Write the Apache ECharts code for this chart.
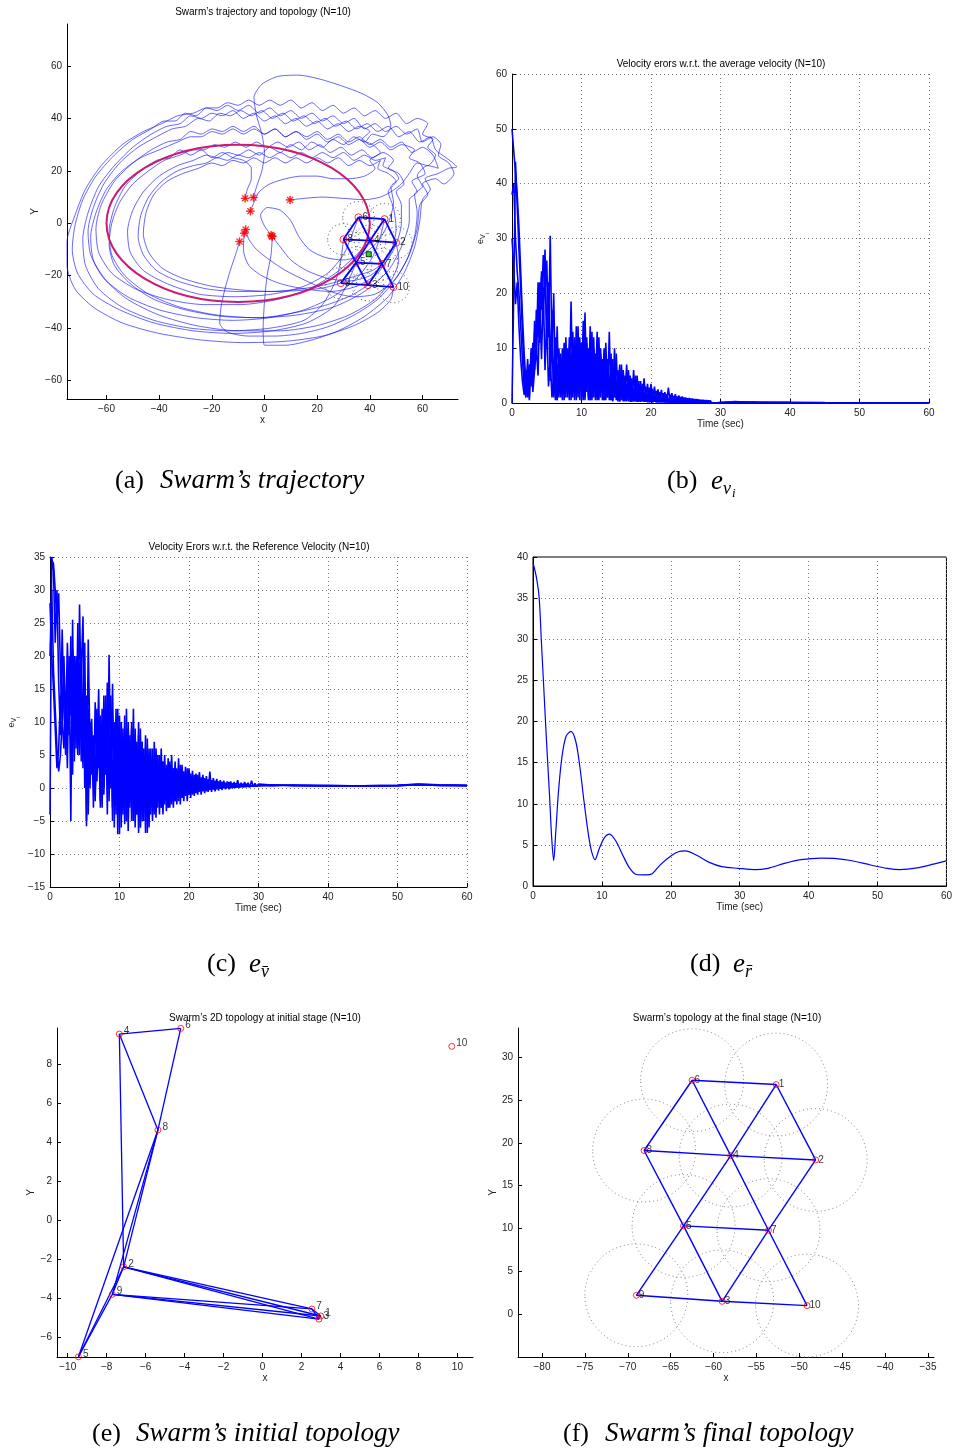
<!DOCTYPE html>
<html><head><meta charset="utf-8">
<script src="https://cdn.jsdelivr.net/npm/echarts@6/dist/echarts.min.js"></script>
<style>html,body{margin:0;padding:0;background:#fff}#c{width:955px;height:1451px}</style>
</head><body><div id="c"></div>
<script>
// ---------------- Panel (a): trajectories ----------------
const TRAJ_1 = [[2.99,-4.9],[2.5,-12],[1,-20],[0,-30],[-0.5,-40],[0,-46.5],[8,-46.5],[18,-44.5],[28,-41],[38,-35.5],[47,-28],[53,-19],[57,-9],[59,1],[60,9],[63,13],[61,17],[66,19],[70,21],[73,21.5],[69,25],[65,28],[63,33],[59,31],[55,35],[51,33],[47,37],[43,35],[39,38],[35,36],[31,39],[27,37],[23,40],[19,38],[15,41],[11,39],[7,42],[3,40],[-1,43],[-5,41],[-9,43],[-13,41],[-17,42],[-21,39],[-25,40],[-30,37],[-35,36],[-41,33],[-48,29],[-55,23],[-61,15],[-65,6],[-67,-3],[-66,-12],[-61,-21],[-52,-28],[-40,-33],[-26,-36],[-12,-37],[2,-36],[15,-33],[26,-28],[35,-21],[41,-13],[44,-5],[45.6,1.6]];
const TRAJ_2 = [[-7.13,-2.38],[-6,-6],[-3,-10],[2,-14],[8,-18],[16,-22],[25,-26],[34,-28],[42,-27],[49,-22],[54,-14],[57,-5],[58,4],[57,11],[60,14],[58,18],[62,22],[66,21],[64,26],[60,29],[56,27],[52,31],[48,29],[44,32],[40,30],[36,33],[32,31],[28,34],[24,32],[20,35],[16,33],[12,35],[8,33],[4,36],[0,34],[-4,36],[-8,34],[-12,36],[-16,34],[-20,35],[-24,33],[-28,33],[-33,31],[-40,28],[-47,25],[-54,20],[-60,13],[-64,4],[-66,-5],[-65,-14],[-60,-22],[-52,-29],[-40,-35],[-26,-39],[-10,-41],[6,-41],[20,-39],[32,-35],[42,-29],[48,-22],[51,-14],[50,-7.4]];
const TRAJ_3 = [[2.89,-5.06],[6,-9],[10,-14],[16,-18],[24,-21],[32,-22],[40,-20],[46,-15],[50,-8],[52,0],[52,7],[50,12],[53,15],[51,19],[47,21],[49,24],[45,27],[41,25],[37,28],[33,26],[29,29],[25,27],[21,30],[17,28],[13,31],[9,29],[5,31],[1,29],[-3,31],[-7,29],[-11,31],[-15,29],[-19,30],[-23,28],[-27,28],[-32,26],[-38,24],[-44,20],[-50,15],[-55,8],[-58,0],[-59,-8],[-57,-16],[-51,-23],[-42,-29],[-30,-33],[-16,-35.5],[-2,-36],[12,-34],[24,-31],[33,-27.5],[39.3,-23.6]];
const TRAJ_4 = [[-7.35,9.54],[-6.5,13],[-5,17],[-5,21],[-8,24],[-12,25],[-16,27],[-20,25],[-24,28],[-28,26],[-32,28],[-36,25],[-41,24],[-47,20],[-53,14],[-57,6],[-59,-3],[-58,-12],[-53,-20],[-44,-27],[-32,-32],[-18,-35],[-3,-36],[12,-35],[26,-32],[38,-26],[47,-18],[52,-9],[55,1],[55,9],[58,12],[56,16],[61,19],[59,23],[55,25],[57,28],[52,30],[48,28],[44,31],[40,29],[36,32],[32,30],[28,33],[24,31],[20,34],[16,32],[12,35],[8,33],[4,36],[0,34],[-4,37],[-8,35],[-12,37],[-16,35],[-20,36],[-24,34],[-28,35],[-32,32],[-37,31],[-43,28],[-50,23],[-57,16],[-62,7],[-64,-2],[-63,-11],[-58,-19],[-49,-25],[-37,-29],[-23,-31],[-9,-31],[5,-29],[17,-25],[27,-19],[34,-13],[40.1,-6.6]];
const TRAJ_5 = [[-9.45,-6.99],[-11,-12],[-13,-18],[-15,-25],[-16.5,-32],[-17,-38],[-14,-41.5],[-6,-43],[4,-43],[14,-42],[24,-39.5],[34,-35],[43,-29],[50,-21],[55,-12],[58,-2],[59,7],[62,11],[60,15],[65,17],[68,15],[72,19],[70,23],[66,26],[67,30],[64,33],[60,31],[58,36],[54,34],[50,37],[46,35],[42,38],[38,36],[34,40],[30,38],[26,41],[22,39],[18,42],[14,40],[10,43],[6,41],[2,44],[-2,42],[-6,45],[-10,43],[-14,45],[-18,43],[-22,44],[-26,41],[-30,42],[-34,39],[-38,39],[-43,36],[-50,32],[-57,26],[-64,18],[-69,9],[-72,-1],[-73,-10],[-71,-19],[-65,-27],[-55,-33],[-42,-38],[-27,-41],[-12,-42],[3,-41],[16,-38],[26,-32],[31,-24],[34.8,-15.0]];
const TRAJ_6 = [[-4.2,9.83],[-3,14],[-1,20],[0,27],[-1,34],[-3,41],[-4,48],[-1,53],[5,56],[13,56.5],[21,55],[29,52.5],[37,49.5],[43,46],[47,41],[48,37],[45,33],[41,34],[38,31],[34,33],[30,30],[26,32],[22,29],[18,31],[14,28],[10,30],[6,27],[2,29],[-2,26],[-6,28],[-10,26],[-14,27],[-18,25],[-22,26],[-27,24],[-33,22],[-40,18],[-46,12],[-50,5],[-52,-3],[-51,-11],[-46,-18],[-37,-23],[-25,-27],[-11,-28],[3,-27],[15,-24],[24,-19],[30,-12],[33,-5],[35.7,2.3]];
const TRAJ_7 = [[2.53,-4.54],[0,-1],[-1.5,3],[1,6],[6,5],[10,1],[13,-5],[17,-10],[23,-13],[30,-14],[37,-12],[43,-7],[47,0],[49,8],[48,14],[51,17],[49,20],[45,22],[46,25],[42,24],[38,26],[34,24],[30,27],[26,25],[22,27],[18,25],[14,27],[10,25],[6,27],[2,25],[-2,27],[-6,25],[-10,26],[-14,24],[-18,25],[-22,23],[-27,22],[-33,20],[-39,16],[-44,10],[-47,3],[-48,-5],[-46,-12],[-41,-18],[-33,-22],[-22,-25],[-10,-26],[2,-26],[14,-25],[25,-23],[35,-20],[41,-18],[44.6,-15.5]];
const TRAJ_8 = [[-5.37,4.63],[-4,8],[-2,12],[2,15],[8,17],[14,18],[20,18],[26,17],[32,17],[38,18],[42,21],[40,24],[44,27],[41,30],[37,32],[40,35],[36,37],[32,35],[28,38],[24,36],[20,39],[16,37],[12,40],[8,38],[4,41],[0,39],[-4,42],[-8,40],[-12,43],[-16,41],[-20,42],[-24,40],[-28,41],[-32,38],[-37,37],[-43,34],[-50,29],[-57,22],[-63,14],[-67,4],[-69,-6],[-68,-16],[-63,-25],[-54,-32],[-42,-37],[-28,-40],[-13,-41],[2,-40],[15,-37],[22,-31],[27,-22],[29,-14],[30,-6.1]];
const TRAJ_9 = [[-7.71,-3.79],[-8,-10],[-6,-16],[-1,-20],[6,-23],[15,-25],[25,-26],[35,-24],[43,-19],[48,-11],[50,-2],[49,6],[47,12],[50,16],[47,19],[43,21],[44,24],[40,22],[36,24],[32,22],[28,25],[24,23],[20,25],[16,23],[12,25],[8,23],[4,25],[0,23],[-4,25],[-8,23],[-12,24],[-16,22],[-20,23],[-25,21],[-31,19],[-37,16],[-42,11],[-45,4],[-46,-4],[-44,-11],[-39,-17],[-31,-21],[-20,-24],[-8,-25.5],[4,-26],[15,-25.5],[23,-24.5],[29.0,-22.8]];
const TRAJ_10 = [[9.71,8.91],[15,9.5],[22,10],[30,9.5],[38,9],[44,10],[48,12],[52,15],[55,19],[58,23],[62,22],[65,26],[62,29],[64,32],[60,34],[62,38],[58,40],[54,38],[50,42],[46,40],[42,43],[38,41],[34,44],[30,42],[26,45],[22,43],[18,46],[14,44],[10,47],[6,45],[2,47],[-2,45],[-6,47],[-10,45],[-14,46],[-18,44],[-22,44],[-27,42],[-33,41],[-39,38],[-46,35],[-54,30],[-62,22],[-68,13],[-72,3],[-75,-7],[-75,-16],[-72,-25],[-65,-32],[-54,-38],[-40,-42],[-24,-44.5],[-8,-45.5],[8,-45],[22,-43],[34,-39],[43,-34],[48,-29],[49.0,-24.3]];
const TRAJS = [TRAJ_1,TRAJ_2,TRAJ_3,TRAJ_4,TRAJ_5,TRAJ_6,TRAJ_7,TRAJ_8,TRAJ_9,TRAJ_10];
const REF_ELLIPSE = [-10, 0, 50, 30];          // centre x, centre y, semi-axis x, semi-axis y
const FINAL_A_X = [45.6, 50.0, 39.3, 40.1, 34.8, 35.7, 44.6, 30.0, 29.0, 49.0];
const FINAL_A_Y = [1.6, -7.4, -23.6, -6.6, -15.0, 2.3, -15.5, -6.1, -22.8, -24.3];
const CENTROID_A = [39.6, -11.8];
const SENSE_R = 6;
const EDGES_FINAL = [[6,1],[6,8],[6,4],[1,4],[1,2],[8,4],[4,2],[8,5],[4,5],[4,7],[2,7],[5,7],[5,9],[5,3],[7,3],[7,10],[9,3],[3,10]];
const A_XT = [-60,-40,-20,0,20,40,60];
const A_YT = [-60,-40,-20,0,20,40,60];

// ---------------- Panel (e): initial topology ----------------
const INIT_X = [2.99,-7.13,2.89,-7.35,-9.45,-4.2,2.53,-5.37,-7.71,9.71];
const INIT_Y = [-4.9,-2.38,-5.06,9.54,-6.99,9.83,-4.54,4.63,-3.79,8.91];
const EDGES_INIT = [[4,6],[4,8],[6,8],[4,2],[8,2],[8,9],[8,5],[2,9],[9,5],[2,5],[2,7],[2,1],[2,3],[9,7],[9,1],[9,3],[7,1],[7,3],[1,3]];
const E_XT = [-10,-8,-6,-4,-2,0,2,4,6,8,10];
const E_YT = [-6,-4,-2,0,2,4,6,8];

// ---------------- Panel (f): final topology ----------------
const FINAL_X = [-52.7,-48.1,-59.0,-58.0,-63.5,-62.5,-53.6,-68.1,-69.0,-49.1];
const FINAL_Y = [26.8,18.0,1.5,18.5,10.3,27.3,9.8,19.1,2.2,1.0];
const F_XT = [-80,-75,-70,-65,-60,-55,-50,-45,-40,-35];
const F_YT = [0,5,10,15,20,25,30];

// ---------------- Panels (b),(c): time samples ----------------
const T = [
0,0.25,0.5,0.75,1,1.25,1.5,1.75,
2,2.25,2.5,2.75,3,3.25,3.5,3.75,
4,4.25,4.5,4.75,5,5.25,5.5,5.75,
6,6.25,6.5,6.75,7,7.25,7.5,7.75,
8,8.25,8.5,8.75,9,9.25,9.5,9.75,
10,10.25,10.5,10.75,11,11.25,11.5,11.75,
12,12.25,12.5,12.75,13,13.25,13.5,13.75,
14,14.25,14.5,14.75,15,15.25,15.5,15.75,
16,16.25,16.5,16.75,17,17.25,17.5,17.75,
18,18.25,18.5,18.75,19,19.25,19.5,19.75,
20,20.25,20.5,20.75,21,21.25,21.5,21.75,
22,22.25,22.5,22.75,23,23.25,23.5,23.75,
24,24.25,24.5,24.75,25,25.25,25.5,25.75,
26,26.25,26.5,26.75,27,27.25,27.5,27.75,
28,28.25,28.5,28.75,29,29.25,29.5,29.75,
30,32,35,40,45,50,53,56,60];

// (b) velocity errors w.r.t. average velocity
const B1 = [50,46,42,38,32,24,16,9, 4,2,7,3,11,6,17,12, 22,17,27,20,26,12,30.5,9, 20,3,14,1,9,2,11,1,
10,2,18.5,1,12,3,14,0.5, 11,1,16.5,2,10,0.5,13,1, 9,2,12,1,8,0.5,11,1, 13,0.5,8,1,9,0.5,7,0.5,
6,1,7,0.3,5,0.5,6,0.3, 5,0.5,4,0.3,4.5,0.3,3.5,0.2, 3.5,0.3,3,0.2,2.5,0.2,2.4,0.2, 2,0.1,2.8,0.2,1.8,0.1,1.6,0.1,
1.4,0.1,1.2,0.1,1,0.1,0.9,0.05, 0.8,0.05,0.7,0.05,0.6,0.05,0.55,0.05, 0.5,0.05,0.45,0.05,0.4,0.05,0.35,0.05,
0.3,0.2,0.12,0.08,0.05,0.04,0.03,0.03,0.02];
const B2 = [0,20,44,36,28,21,13,6, 2,8,1,10,4,15,9,22, 14,24,16,28,10,22,6,17, 2,12,0.5,10,1,8,2,12,
1,9,3,13,0.5,14,1,11, 2,15,0.5,12,1,14,0.5,10, 1,13,0.5,9,2,10,0.5,8, 1,9,0.5,10,1,6,0.3,7,
0.5,5,0.3,6,0.5,4.5,0.3,5, 0.3,4,0.2,3.5,0.3,3,0.2,2.8, 0.2,2.6,0.2,2.2,0.1,2,0.1,1.8, 0.1,1.6,0.1,1.5,0.1,1.3,0.1,1.2,
0.05,1.1,0.05,1,0.05,0.85,0.05,0.8, 0.05,0.7,0.05,0.65,0.05,0.55,0.05,0.5, 0.05,0.45,0.05,0.4,0.04,0.35,0.04,0.3,
0.05,0.25,0.1,0.15,0.06,0.04,0.03,0.02,0.02];
const B3 = [38,40,30,24,20,14,8,3, 1,5,0.5,9,3,13,8,19, 11,23,18,22,14,19,4,12, 1,8,0.5,6,1.5,10,0.5,7,
2,12,0.5,10,1,8,2,12, 0.5,10,1,11,0.5,9,1,12, 0.5,7,1,10,0.5,9,1,6, 0.5,7,0.3,6,0.5,5,0.3,6,
0.3,4,0.5,5,0.2,3.5,0.3,4, 0.2,3,0.3,2.5,0.2,2.6,0.1,2, 0.1,1.8,0.2,1.6,0.1,1.5,0.1,1.3, 0.1,1.2,0.05,1.1,0.05,1,0.05,0.9,
0.05,0.8,0.05,0.7,0.05,0.65,0.05,0.6, 0.05,0.5,0.05,0.45,0.04,0.4,0.04,0.35, 0.04,0.3,0.03,0.28,0.03,0.25,0.03,0.2,
0.15,0.05,0.18,0.06,0.05,0.03,0.03,0.02,0.02];
const B4 = [30,25,18,22,14,8,4,1.5, 6,1,4,8,2,6,10,5, 18,8,21,6,15,3,8,1, 5,0.5,7,3,5,0.5,8,3,
6,0.5,9,2,7,0.5,8,3, 7,0.5,9,3,6,0.5,8,2, 5,0.5,7,2,6,0.5,5,1, 4,0.5,5,1,4,0.3,4,1,
3,0.3,3.5,0.5,3,0.2,2.5,0.3, 2.5,0.2,2,0.3,1.8,0.2,1.6,0.1, 1.5,0.1,1.3,0.1,1.2,0.1,1,0.1, 0.9,0.05,0.8,0.05,0.7,0.05,0.65,0.05,
0.6,0.05,0.5,0.05,0.45,0.04,0.4,0.04, 0.35,0.03,0.3,0.03,0.28,0.03,0.25,0.03, 0.2,0.02,0.18,0.02,0.15,0.02,0.12,0.02,
0.1,0.12,0.06,0.05,0.04,0.03,0.02,0.02,0.02];

// (c) velocity errors w.r.t. reference velocity
const C1 = [35,35,34,30,25,29.5,18,10, 6,14,3,20,-5,25.5,4,18, 8,27.8,12,3,22,-5.8,22.5,6, 10.5,-3,13,2,15,-2,12,0,
14,-4,20.2,0,15.8,-6,12,-7, 11,-6,9,-5.5,12,-6.5,8,-5, 12,-6,7,-6.8,9,-5,6,-6.8, 7.5,-6,6,-5,7,-4.5,5,-4,
6,-4,5,-3.5,4.5,-3,5,-3, 4,-2.5,4.5,-2.5,3.5,-2,3.2,-2, 3,-1.5,2.6,-1.2,2.2,-1,2.4,-1, 2,-0.8,1.8,-0.6,2.5,-0.6,1.5,-0.5,
1.4,-0.4,1.2,-0.3,1.1,-0.2,1,-0.2, 1,-0.1,0.9,0,1.2,0,0.8,0.1, 0.9,0.1,0.8,0.1,1.1,0.2,0.7,0.2,
0.6,0.45,0.4,0.35,0.35,0.4,0.55,0.45,0.4];
const C2 = [-4,35,33,22,30,16,8,24, 12,5,18,8,23,2,20,6, 25,5,18,26,0,14,-4,10, 2,8,-1,12,3,9,-3,14,
2,16,-2,12,-5,10,2,11, -4,10,-3,11,-5,9,-2,10, -5,9,-4,8,-6,7,-3,8, -5,6,-3,5,-4,6,-2,5,
-3,4,-2,3.5,-3,4,-2,3, -2,3,-1.5,3.5,-1.5,2.5,-1.2,3, -1,2.2,-0.8,2,-0.7,2,-0.5,1.6, -0.5,1.5,-0.4,1.3,-0.3,1.2,-0.2,1.1,
-0.2,1,-0.1,0.9,0,0.8,0,0.9, 0,0.7,0.1,0.7,0.1,0.6,0.2,0.6, 0.2,0.6,0.2,0.5,0.3,0.5,0.3,0.5,
0.4,0.5,0.35,0.4,0.3,0.35,0.5,0.4,0.35];
const C3 = [28,20,15,9,3,6,14,12, 20,9,22,13,17,21,12,20, 14,19,4,13,16,-5,10,0, 8,4,-2,9,4,11,1,7,
4,11,1,14,-3,9,-4,12, -7,10,-4,8,-5,10,-3,9, -5,8,-4,10,-6,7,-5,6, -6.8,5,-4,6,-3.5,4,-3,5,
-3,4,-2.5,3,-3,3.5,-2.5,3, -2,2.5,-2,2.8,-1.5,2.5,-1,2, -1,1.8,-1,1.6,-0.8,1.5,-0.6,1.4, -0.4,1.3,-0.5,1.1,-0.3,1,-0.2,1,
-0.1,0.9,-0.1,0.8,0,0.7,0.1,0.7, 0.1,0.6,0.1,0.6,0.2,0.5,0.2,0.5, 0.2,0.5,0.3,0.45,0.3,0.45,0.3,0.4,
0.4,0.3,0.45,0.35,0.35,0.4,0.6,0.5,0.4];
const C4 = [20,30,18,12,6,2.5,5,10, 15,11,8,17,11,14,7,12, 5,13,21,8,11,1,12,2, 6,0,5,1,8,-3,6,-1,
9,1,7,3,11,-2,7,0, 6,-3,7,-1,5,-3,6,0, 4,-2,5,-1,3,-3,5,0, 3,-2,4,-1,3,-2,3,-1,
2.5,-1,2,-1.5,2.5,-1,2,-0.5, 2,-1,1.5,-0.8,1.5,-0.5,1.2,-0.5, 1,-0.3,1,-0.3,0.8,-0.2,0.8,0, 0.7,0,0.7,0.1,0.6,0.1,0.6,0.1,
0.6,0.2,0.55,0.2,0.5,0.2,0.5,0.25, 0.5,0.25,0.5,0.3,0.45,0.3,0.45,0.3, 0.45,0.3,0.45,0.35,0.4,0.35,0.4,0.35,
0.4,0.45,0.4,0.3,0.3,0.35,0.5,0.4,0.35];

// (d) reference position error
const D_T = [0,0.5,0.9,1.2,1.6,2.0,2.4,2.7,3.0,3.3,3.7,4.2,4.8,5.5,6.2,6.8,7.4,8.0,8.5,9.0,9.6,10.3,11.1,12.0,13.0,14.0,15.0,16.4,17.3,18.5,20.0,21.2,22.1,23.6,25.5,27.4,29.8,32.2,34.1,36.5,38.9,41.8,43.7,46.1,49.0,51.4,53.3,55.7,58.1,60];
const D_V = [39.3,37.5,35,30,23.5,17,11,6,3.1,6.5,11.5,15.7,18.2,18.8,17.6,14.5,10.3,6.5,4.2,3.2,4.5,5.8,6.3,5.5,3.8,2.2,1.4,1.35,1.5,2.6,3.65,4.2,4.26,3.8,2.9,2.35,2.15,2.0,2.15,2.75,3.2,3.4,3.35,3.1,2.55,2.15,2.0,2.2,2.65,3.05];

// ---------------- build ----------------
const FONT = '"Liberation Sans", Arial, sans-serif';
const fmt = v => (v < 0 ? '\u2212' + (-v) : String(v));
const G = [
  {left:67, top:24, width:391, height:375},
  {left:512, top:74, width:417, height:329},
  {left:50, top:557, width:417, height:330},
  {left:533, top:557, width:417, height:329},
  {left:57, top:1028, width:416, height:329},
  {left:518, top:1028, width:416, height:329}
];
const RICH = {
  e:{fontSize:9, fontFamily:FONT, color:'#222', lineHeight:14, verticalAlign:'top'},
  s:{fontSize:7, fontFamily:FONT, color:'#222', lineHeight:14, verticalAlign:'middle'},
  ss:{fontSize:5, fontFamily:FONT, color:'#222', lineHeight:14, verticalAlign:'bottom'}
};
function mkAxis(gi, o) {
  const a = {
    type:'value', gridIndex:gi, min:o.min, max:o.max,
    axisLine:{show:true, onZero:false, lineStyle:{color:'#000', width:1}},
    axisTick:{show:true, inside:true, length:4, lineStyle:{color:'#000', width:1}},
    axisLabel:{show:true, color:'#222', fontSize:10, fontFamily:FONT, margin:o.margin || 5, formatter:fmt},
    splitLine:{show:!!o.grid, lineStyle:{color:'#777', width:1, type:[1,3]}},
    name:o.name || '', nameLocation:'middle', nameGap:o.nameGap || 15,
    nameTextStyle:{color:'#222', fontSize:10, fontFamily:FONT, rich:o.rich}
  };
  if (o.interval != null) a.interval = o.interval;
  if (o.custom) { a.axisTick.customValues = o.custom; a.axisLabel.customValues = o.custom; }
  return a;
}
const xAxis = [
  mkAxis(0,{min:-75,max:73.5,custom:A_XT,name:'x',nameGap:16}),
  mkAxis(1,{min:0,max:60,interval:10,grid:true,name:'Time (sec)',nameGap:14}),
  mkAxis(2,{min:0,max:60,interval:10,grid:true,name:'Time (sec)',nameGap:14}),
  mkAxis(3,{min:0,max:60,interval:10,grid:true,name:'Time (sec)',nameGap:14}),
  mkAxis(4,{min:-10.55,max:10.8,custom:E_XT,name:'x',nameGap:14}),
  mkAxis(5,{min:-82.8,max:-34.3,custom:F_XT,name:'x',nameGap:14})
];
const yAxis = [
  mkAxis(0,{min:-67,max:76,custom:A_YT,name:'Y',nameGap:27}),
  mkAxis(1,{min:0,max:60,interval:10,grid:true,name:'{e|e}{s|V}{ss|i}',nameGap:22,rich:RICH}),
  mkAxis(2,{min:-15,max:35,interval:5,grid:true,name:'{e|e}{s|V}{ss|i}',nameGap:29,rich:RICH}),
  mkAxis(3,{min:0,max:40,interval:5,grid:true}),
  mkAxis(4,{min:-7,max:9.85,custom:E_YT,name:'Y',nameGap:19}),
  mkAxis(5,{min:-5,max:33.4,custom:F_YT,name:'Y',nameGap:18})
];

const series = [];
const ax = gi => ({xAxisIndex:gi, yAxisIndex:gi});
// (a)
TRAJS.forEach(tr => series.push(Object.assign({type:'line', data:tr, showSymbol:false, symbol:'none', smooth:0.25,
  lineStyle:{color:'#1010ff', width:0.8, opacity:0.8}, silent:true, z:1}, ax(0))));
series.push(Object.assign({type:'custom', data:[REF_ELLIPSE], silent:true, z:2,
  renderItem:(p, api) => {
    const c = api.coord([api.value(0), api.value(1)]);
    const s = api.size([api.value(2), api.value(3)]);
    return {type:'ellipse', shape:{cx:c[0], cy:c[1], rx:s[0], ry:s[1]}, style:{fill:'none', stroke:'#cc1a70', lineWidth:2}};
  }}, ax(0)));
function circles(X, Y, gi, color) {
  return Object.assign({type:'custom', data:X.map((x,i)=>[x, Y[i], SENSE_R]), silent:true, z:3,
    renderItem:(p, api) => {
      const c = api.coord([api.value(0), api.value(1)]);
      const s = api.size([api.value(2), api.value(2)]);
      return {type:'ellipse', shape:{cx:c[0], cy:c[1], rx:s[0], ry:s[1]}, style:{fill:'none', stroke:color, lineWidth:1, lineDash:[1,3]}};
    }}, ax(gi));
}
function edges(X, Y, E, gi, w) {
  return Object.assign({type:'lines', coordinateSystem:'cartesian2d', silent:true, z:4,
    data:E.map(([i,j]) => ({coords:[[X[i-1],Y[i-1]],[X[j-1],Y[j-1]]]})),
    lineStyle:{color:'#0000ff', width:w, opacity:1, curveness:0}}, ax(gi));
}
function nodes(X, Y, gi, size, off) {
  return Object.assign({type:'scatter', silent:true, z:6,
    data:X.map((x,i)=>({value:[x, Y[i]], name:String(i+1)})),
    symbol:'circle', symbolSize:size,
    itemStyle:{color:'rgba(0,0,0,0)', borderColor:'#ff0000', borderWidth:1},
    label:{show:true, position:'right', distance:0, offset:off, formatter:'{b}', color:'#000', fontSize:10, fontFamily:FONT}}, ax(gi));
}
series.push(circles(FINAL_A_X, FINAL_A_Y, 0, '#555'));
series.push(edges(FINAL_A_X, FINAL_A_Y, EDGES_FINAL, 0, 1.8));
series.push(Object.assign({type:'scatter', silent:true, z:5, data:INIT_X.map((x,i)=>[x, INIT_Y[i]]),
  symbol:'path://M4.5,0H5.5V10H4.5Z M0,4.5H10V5.5H0Z M1.1,1.8L1.8,1.1L8.9,8.2L8.2,8.9Z M8.2,1.1L8.9,1.8L1.8,8.9L1.1,8.2Z',
  symbolSize:8, itemStyle:{color:'#ff0000', borderColor:'#ff0000', borderWidth:0.6}}, ax(0)));
series.push(nodes(FINAL_A_X, FINAL_A_Y, 0, 7, [0,0]));
series.push(Object.assign({type:'scatter', silent:true, z:7, data:[CENTROID_A], symbol:'rect', symbolSize:5,
  itemStyle:{color:'#00cc00', borderColor:'#000', borderWidth:1}}, ax(0)));
// (b)
[B1,B2,B3,B4].forEach(V => series.push(Object.assign({type:'line', data:T.map((t,i)=>[t, V[i]]), showSymbol:false, symbol:'none',
  lineStyle:{color:'#0000ff', width:1.6}, silent:true}, ax(1))));
// (c)
[C1,C2,C3,C4].forEach(V => series.push(Object.assign({type:'line', data:T.map((t,i)=>[t, V[i]]), showSymbol:false, symbol:'none',
  lineStyle:{color:'#0000ff', width:1.6}, silent:true}, ax(2))));
// (d)
series.push(Object.assign({type:'line', data:D_T.map((t,i)=>[t, D_V[i]]), showSymbol:false, symbol:'none', smooth:0.3,
  lineStyle:{color:'#0000ff', width:1.2}, silent:true}, ax(3)));
// (e)
series.push(edges(INIT_X, INIT_Y, EDGES_INIT, 4, 1.3));
series.push(nodes(INIT_X, INIT_Y, 4, 6, [1,-3]));
// (f)
series.push(circles(FINAL_X, FINAL_Y, 5, '#888'));
series.push(edges(FINAL_X, FINAL_Y, EDGES_FINAL, 5, 1.4));
series.push(nodes(FINAL_X, FINAL_Y, 5, 6, [-1,0]));

// text
const SANS = '10px "Liberation Sans", Arial, sans-serif';
const SERIF = '26px "Liberation Serif", "DejaVu Serif", serif';
const SERIF_I = 'italic 27px "Liberation Serif", "DejaVu Serif", serif';
const SUB_I = 'italic 18px "Liberation Serif", "DejaVu Serif", serif';
const SUB2_I = 'italic 13px "Liberation Serif", "DejaVu Serif", serif';
const txt = (x, y, text, font, align) => ({type:'text', x:x, y:y, silent:true,
  style:{text:text, font:font, fill:'#000', align:align || 'left', verticalAlign:'middle'}});
const graphic = [
  txt(263, 12, 'Swarm\u2019s trajectory and topology (N=10)', SANS, 'center'),
  txt(721, 64, 'Velocity erors w.r.t. the average velocity (N=10)', SANS, 'center'),
  txt(259, 547, 'Velocity Erors w.r.t. the Reference Velocity (N=10)', SANS, 'center'),
  txt(265, 1018, 'Swarm\u2019s 2D topology at initial stage (N=10)', SANS, 'center'),
  txt(727, 1018, 'Swarm\u2019s topology at the final stage (N=10)', SANS, 'center'),
  // captions
  txt(115, 481, '(a)', SERIF), txt(160, 481, 'Swarm\u2019s trajectory', SERIF_I),
  txt(667, 481, '(b)', SERIF), txt(711, 482, 'e', SERIF_I), txt(723, 489, 'v', SUB_I), txt(732, 494, 'i', SUB2_I),
  txt(207, 964, '(c)', SERIF), txt(249, 965, 'e', SERIF_I), txt(261, 972, 'v\u0304', SUB_I),
  txt(690, 964, '(d)', SERIF), txt(733, 965, 'e', SERIF_I), txt(745, 972, 'r\u0304', SUB_I),
  txt(92, 1434, '(e)', SERIF), txt(136, 1434, 'Swarm\u2019s initial topology', SERIF_I),
  txt(563, 1434, '(f)', SERIF), txt(605, 1434, 'Swarm\u2019s final topology', SERIF_I)
];

const grid = G.map((g, i) => Object.assign({containLabel:false, show:i === 3, borderColor:'#000', borderWidth:1, backgroundColor:'rgba(0,0,0,0)'}, g));
const chart = echarts.init(document.getElementById('c'), null, {renderer:'canvas'});
chart.setOption({animation:false, backgroundColor:'#fff', grid:grid, xAxis:xAxis, yAxis:yAxis, series:series, graphic:graphic});
</script></body></html>
